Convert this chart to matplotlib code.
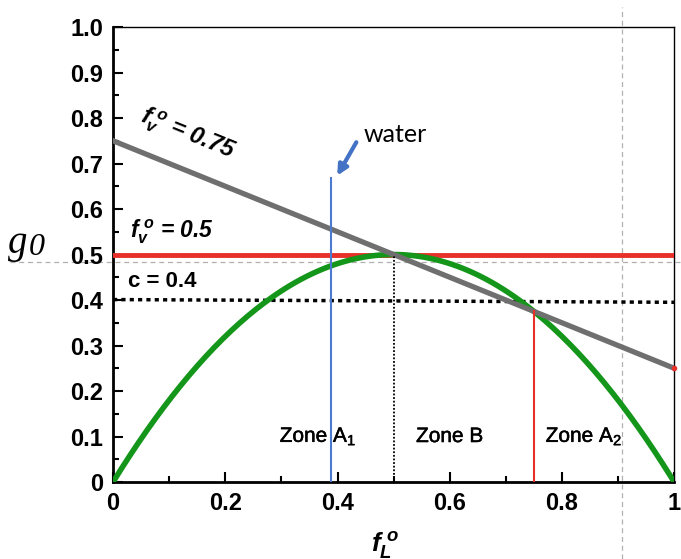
import numpy as np
import matplotlib
matplotlib.use("Agg")
import matplotlib.pyplot as plt
import matplotlib.patheffects as pe
from matplotlib.ticker import MultipleLocator, FixedLocator

plt.rcParams['font.family'] = ['Liberation Sans', 'DejaVu Sans']
plt.rcParams['mathtext.fontset'] = 'custom'
plt.rcParams['mathtext.rm'] = 'Liberation Sans:bold:italic'
plt.rcParams['mathtext.it'] = 'Liberation Sans:bold:italic'
plt.rcParams['mathtext.bf'] = 'Liberation Sans:bold:italic'
plt.rcParams['mathtext.sf'] = 'Liberation Sans'

# --- data ---
f_L = np.linspace(0.0, 1.0, 201)
g_curve = 2 * f_L * (1 - f_L)            # g0 = 2 f (1 - f)
line_075_x = [0.0, 1.0]
line_075_y = [0.75, 0.25]                # f_v^o = 0.75
line_05_x = [0.0, 1.0]
line_05_y = [0.5, 0.5]                   # f_v^o = 0.5
c_x = [0.0, 1.0]
c_y = [0.401, 0.395]                     # c = 0.4
water_x = 0.389
water_top = 0.668
zone_b_x = 0.5
zone_b_top = 0.5
zone_a2_x = 0.75
zone_a2_top = 0.375
g0_level = 0.4835
ref_x = 0.907

xticks = [0, 0.2, 0.4, 0.6, 0.8, 1.0]
xticklabels = ["0", "0.2", "0.4", "0.6", "0.8", "1"]
yticks = [0, 0.1, 0.2, 0.3, 0.4, 0.5, 0.6, 0.7, 0.8, 0.9, 1.0]
yticklabels = ["0", "0.1", "0.2", "0.3", "0.4", "0.5", "0.6", "0.7", "0.8", "0.9", "1.0"]

fig = plt.figure(figsize=(6.81, 5.59), dpi=100)
ax = fig.add_axes([0.166, 0.1377, 0.824, 0.814])
ax.set_xlim(0, 1)
ax.set_ylim(0, 1)

# reference guides extending past the axes
ax.plot([-0.183, 1.015], [g0_level, g0_level], color='#b0b0b0', lw=0.9,
        ls=(0, (4, 3)), clip_on=False, zorder=1)
ax.plot([ref_x, ref_x], [-0.17, 1.045], color='#b0b0b0', lw=0.9,
        ls=(0, (4, 3)), clip_on=False, zorder=1)

ax.plot(line_05_x, line_05_y, color='#e8302a', lw=3.5, zorder=3)
ax.plot(c_x, c_y, color='black', lw=2.5, ls=(0, (1.2, 1.2)), zorder=3)
ax.plot(f_L, g_curve, color='#14961a', lw=4, zorder=4)
ax.plot(line_075_x, line_075_y, color='#6f6f6f', lw=3.8, zorder=5)
ax.plot(line_075_x[-1:], line_075_y[-1:], 'o', color='#e8302a', ms=3,
        clip_on=False, zorder=5.5)

ax.plot([water_x, water_x], [0, water_top], color='#4a7bd0', lw=1.5, zorder=6)
ax.plot([zone_b_x, zone_b_x], [0, zone_b_top], color='black', lw=1.3,
        ls=(0, (1, 1)), zorder=6)
ax.plot([zone_a2_x, zone_a2_x], [0, zone_a2_top], color='#e8302a', lw=1.5, zorder=6)

ax.annotate("", xy=(0.397, 0.668), xytext=(0.436, 0.752),
            arrowprops=dict(arrowstyle='-|>,head_length=0.6,head_width=0.3',
                            color='#4472c4', lw=3), zorder=7)
ax.text(0.446, 0.763, "water", fontsize=18, family=['Lato', 'DejaVu Sans'],
        va='center', ha='left')

ax.text(0.133, 0.765, r"$f_{v}^{\;o}$ = 0.75", fontsize=17, fontweight='bold',
        style='italic', rotation=-22, ha='center', va='center',
        rotation_mode='anchor')
ax.text(0.03, 0.55, r"$f_{v}^{\;o}$ = 0.5", fontsize=16.5, fontweight='bold',
        style='italic', ha='left', va='center')
ax.text(0.027, 0.44, "c = 0.4", fontsize=16, fontweight='bold', ha='left', va='center')

zone_fx = [pe.withStroke(linewidth=0.35, foreground='black')]
ax.text(0.297, 0.1, r"Zone A$_\mathsf{1}$", fontsize=15, ha='left', va='center',
        path_effects=zone_fx)
ax.text(0.54, 0.1, "Zone B", fontsize=15, ha='left', va='center',
        path_effects=zone_fx)
ax.text(0.771, 0.1, r"Zone A$_\mathsf{2}$", fontsize=15, ha='left', va='center',
        path_effects=zone_fx)

fig.text(0.545, 0.025, r"$f_{L}^{\;o}$", fontsize=19, ha='left', va='center')
fig.text(0.012, 0.565, "g", fontsize=28, family='Liberation Serif',
         style='italic', ha='left', va='center')
fig.text(0.042, 0.558, "0", fontsize=23, family='Liberation Serif',
         style='italic', ha='left', va='center')

ax.xaxis.set_major_locator(FixedLocator(xticks))
ax.set_xticklabels(xticklabels)
ax.yaxis.set_major_locator(FixedLocator(yticks))
ax.set_yticklabels(yticklabels)
ax.xaxis.set_minor_locator(MultipleLocator(0.1))
ax.yaxis.set_minor_locator(MultipleLocator(0.05))
ax.tick_params(which='both', direction='in', top=False, right=False, width=1.5)
ax.tick_params(which='major', length=7, labelsize=17, pad=7)
ax.tick_params(which='minor', length=4)
for lab in ax.get_xticklabels() + ax.get_yticklabels():
    lab.set_fontweight('bold')

ax.spines['left'].set_linewidth(2)
ax.spines['bottom'].set_linewidth(2)
ax.spines['top'].set_linewidth(1)
ax.spines['right'].set_linewidth(1)

fig.savefig("out.png", dpi=100)
